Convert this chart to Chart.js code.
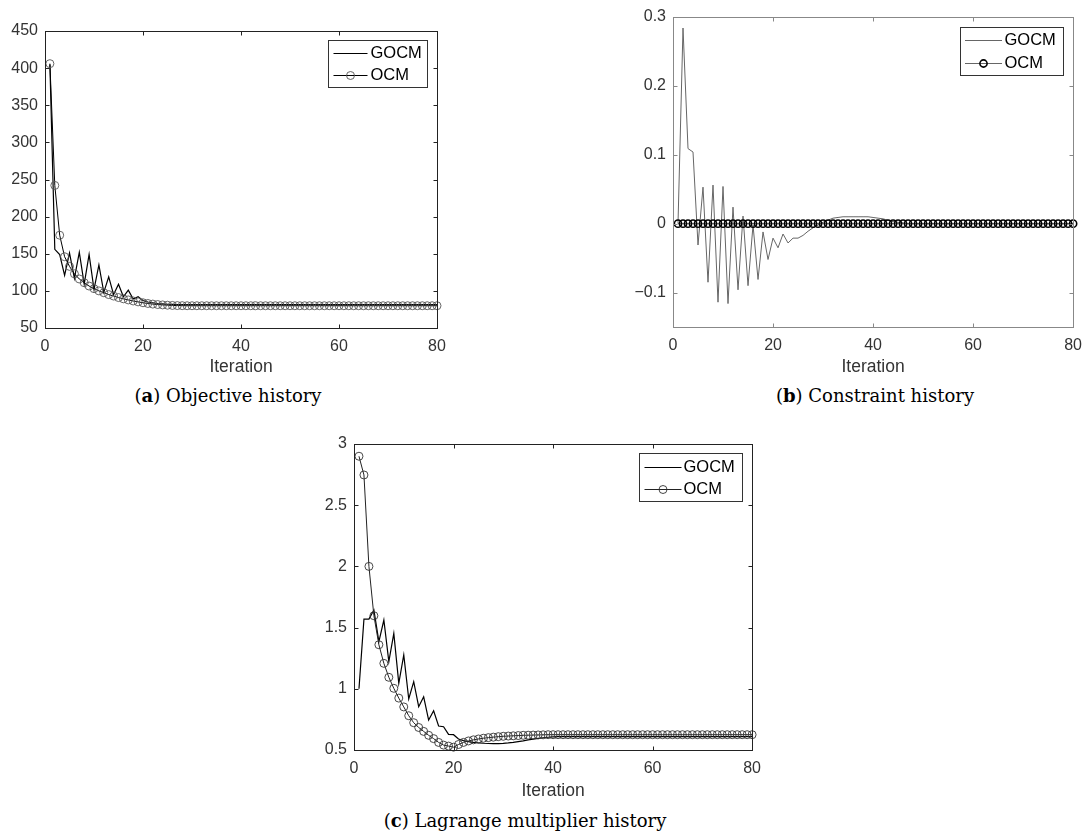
<!DOCTYPE html>
<html>
<head>
<meta charset="utf-8">
<script src="https://cdn.jsdelivr.net/npm/chart.js@4.4.0/dist/chart.umd.min.js"></script>
<style>
  body { margin: 0; background: #fff; width: 1091px; height: 836px; position: relative; overflow: hidden; }
  canvas { position: absolute; }
  .cap { position: absolute; font-family: "DejaVu Serif", serif; font-size: 18px; line-height: 20px; color: #000; white-space: nowrap; transform: translateX(-50%); }
</style>
</head>
<body>
<canvas id="chartA" width="460" height="378" style="left:0;top:0"></canvas>
<canvas id="chartB" width="481" height="378" style="left:610px;top:0"></canvas>
<canvas id="chartC" width="480" height="382" style="left:290px;top:420px"></canvas>
<div class="cap" style="left:228px;top:386px">(<b>a</b>) Objective history</div>
<div class="cap" style="left:875px;top:386px">(<b>b</b>) Constraint history</div>
<div class="cap" style="left:525px;top:811px">(<b>c</b>) Lagrange multiplier history</div>
<script>
// iteration index shared by all three panels
var iterations = Array.from({length: 80}, (_, i) => i + 1);
var xTicks = [0, 20, 40, 60, 80];

// (a) objective history
var objGocm = [
  405, 156, 149, 121, 151, 117, 152, 109, 149, 102,
  135, 98, 119, 95, 109, 92, 101, 89, 92, 87,
  85, 84, 83, 82.5, 82, 81.8, 81.6, 81.5, 81.5, 81.5,
  81.5, 81.5, 81.5, 81.5, 81.5, 81.5, 81.5, 81.5, 81.5, 81.5,
  81.5, 81.5, 81.5, 81.5, 81.5, 81.5, 81.5, 81.5, 81.5, 81.5,
  81.5, 81.5, 81.5, 81.5, 81.5, 81.5, 81.5, 81.5, 81.5, 81.5,
  81.5, 81.5, 81.5, 81.5, 81.5, 81.5, 81.5, 81.5, 81.5, 81.5,
  81.5, 81.5, 81.5, 81.5, 81.5, 81.5, 81.5, 81.5, 81.5, 81.5
];
var objOcm = [
  406, 242, 175, 146, 133, 123, 116, 111, 106.5, 103,
  100, 97.5, 95, 93, 91, 89.3, 87.8, 86.4, 85.2, 84,
  83, 82.2, 81.6, 81.1, 80.7, 80.4, 80.2, 80.1, 80, 80,
  80, 80, 80, 80, 80, 80, 80, 80, 80, 80,
  80, 80, 80, 80, 80, 80, 80, 80, 80, 80,
  80, 80, 80, 80, 80, 80, 80, 80, 80, 80,
  80, 80, 80, 80, 80, 80, 80, 80, 80, 80,
  80, 80, 80, 80, 80, 80, 80, 80, 80, 80
];
var objTicks = [50, 100, 150, 200, 250, 300, 350, 400, 450];

// (b) constraint history
var conGocm = [
  0, 0.284, 0.109, 0.104, -0.031, 0.053, -0.085, 0.056, -0.114, 0.054,
  -0.116, 0.024, -0.096, 0.011, -0.09, -0.002, -0.081, -0.012, -0.052, -0.021,
  -0.035, -0.015, -0.028, -0.021, -0.021, -0.017, -0.011, -0.006, -0.002, 0.002,
  0.005, 0.008, 0.009, 0.01, 0.01, 0.01, 0.01, 0.01, 0.01, 0.009,
  0.008, 0.007, 0.005, 0.003, 0.002, 0.001, 0, 0, 0, 0,
  0, 0, 0, 0, 0, 0, 0, 0, 0, 0,
  0, 0, 0, 0, 0, 0, 0, 0, 0, 0,
  0, 0, 0, 0, 0, 0, 0, 0, 0, 0
];
var conOcm = [
  0, 0, 0, 0, 0, 0, 0, 0, 0, 0,
  0, 0, 0, 0, 0, 0, 0, 0, 0, 0,
  0, 0, 0, 0, 0, 0, 0, 0, 0, 0,
  0, 0, 0, 0, 0, 0, 0, 0, 0, 0,
  0, 0, 0, 0, 0, 0, 0, 0, 0, 0,
  0, 0, 0, 0, 0, 0, 0, 0, 0, 0,
  0, 0, 0, 0, 0, 0, 0, 0, 0, 0,
  0, 0, 0, 0, 0, 0, 0, 0, 0, 0
];
var conTicks = [-0.1, 0, 0.1, 0.2, 0.3];

// (c) Lagrange multiplier history
var lagGocm = [
  1.0, 1.57, 1.57, 1.644, 1.385, 1.562, 1.222, 1.453, 1.045, 1.276,
  0.917, 1.058, 0.854, 0.935, 0.745, 0.82, 0.696, 0.69, 0.628, 0.625,
  0.59, 0.577, 0.568, 0.562, 0.558, 0.555, 0.553, 0.552, 0.552, 0.554,
  0.558, 0.563, 0.569, 0.575, 0.582, 0.589, 0.595, 0.6, 0.604, 0.607,
  0.609, 0.61, 0.61, 0.61, 0.61, 0.61, 0.61, 0.61, 0.61, 0.61,
  0.61, 0.61, 0.61, 0.61, 0.61, 0.61, 0.61, 0.61, 0.61, 0.61,
  0.61, 0.61, 0.61, 0.61, 0.61, 0.61, 0.61, 0.61, 0.61, 0.61,
  0.61, 0.61, 0.61, 0.61, 0.61, 0.61, 0.61, 0.61, 0.61, 0.61
];
var lagOcm = [
  2.9, 2.747, 2.0, 1.597, 1.36, 1.208, 1.094, 1.004, 0.924, 0.852,
  0.78, 0.723, 0.684, 0.652, 0.62, 0.593, 0.562, 0.54, 0.532, 0.523,
  0.545, 0.562, 0.574, 0.583, 0.59, 0.596, 0.601, 0.605, 0.609, 0.612,
  0.614, 0.616, 0.618, 0.62, 0.621, 0.622, 0.623, 0.624, 0.625, 0.625,
  0.625, 0.625, 0.625, 0.625, 0.625, 0.625, 0.625, 0.625, 0.625, 0.625,
  0.625, 0.625, 0.625, 0.625, 0.625, 0.625, 0.625, 0.625, 0.625, 0.625,
  0.625, 0.625, 0.625, 0.625, 0.625, 0.625, 0.625, 0.625, 0.625, 0.625,
  0.625, 0.625, 0.625, 0.625, 0.625, 0.625, 0.625, 0.625, 0.625, 0.625
];
var lagTicks = [0.5, 1, 1.5, 2, 2.5, 3];

Chart.defaults.font.family = '"Liberation Sans", Arial, sans-serif';
Chart.defaults.color = '#333';

function pts(vals) {
  return iterations.map((it, i) => ({x: it, y: vals[i]}));
}

// matlab style box, inward ticks on all sides, legend in the top right corner
var matlabAxes = {
  id: 'matlabAxes',
  afterDraw(chart, args, opts) {
    var ctx = chart.ctx, a = chart.chartArea, sx = chart.scales.x, sy = chart.scales.y;
    var l = Math.round(a.left) + 0.5, r = Math.round(a.right) + 0.5;
    var t = Math.round(a.top) + 0.5, b = Math.round(a.bottom) + 0.5;
    ctx.save();
    ctx.strokeStyle = opts.color;
    ctx.lineWidth = 1;
    ctx.strokeRect(l, t, r - l, b - t);
    ctx.beginPath();
    sx.ticks.forEach(function (tk) {
      var px = Math.round(sx.getPixelForValue(tk.value)) + 0.5;
      ctx.moveTo(px, b); ctx.lineTo(px, b - 4);
      ctx.moveTo(px, t); ctx.lineTo(px, t + 4);
    });
    sy.ticks.forEach(function (tk) {
      var py = Math.round(sy.getPixelForValue(tk.value)) + 0.5;
      ctx.moveTo(l, py); ctx.lineTo(l + 4, py);
      ctx.moveTo(r, py); ctx.lineTo(r - 4, py);
    });
    ctx.stroke();

    var lg = opts.legend;
    var bx = Math.round(a.right) - lg.inset - lg.width + 0.5;
    var by = Math.round(a.top) + lg.top + 0.5;
    ctx.fillStyle = '#fff';
    ctx.fillRect(bx, by, lg.width, lg.height);
    ctx.strokeStyle = '#333';
    ctx.strokeRect(bx, by, lg.width, lg.height);
    ctx.font = '16.5px "Liberation Sans", Arial, sans-serif';
    ctx.textBaseline = 'middle';
    chart.data.datasets.forEach(function (ds, i) {
      var y = by + lg.rows[i];
      ctx.strokeStyle = ds.borderColor;
      ctx.lineWidth = ds.borderWidth;
      ctx.beginPath();
      ctx.moveTo(bx + lg.lineStart, y);
      ctx.lineTo(bx + lg.lineEnd, y);
      ctx.stroke();
      if (ds.pointRadius > 0) {
        ctx.strokeStyle = ds.pointBorderColor;
        ctx.lineWidth = ds.pointBorderWidth;
        ctx.beginPath();
        ctx.arc(bx + (lg.lineStart + lg.lineEnd) / 2, y, ds.pointRadius, 0, Math.PI * 2);
        ctx.stroke();
      }
      ctx.fillStyle = '#000';
      ctx.fillText(ds.label, bx + lg.textX, y);
    });
    ctx.restore();
  }
};

function makeChart(id, sets, yCfg, box) {
  return new Chart(document.getElementById(id), {
    type: 'line',
    data: { datasets: sets },
    plugins: [matlabAxes],
    options: {
      responsive: false,
      animation: false,
      events: [],
      layout: { padding: { left: 0, top: box.top, right: box.right, bottom: 0 } },
      plugins: {
        legend: { display: false },
        tooltip: { enabled: false },
        matlabAxes: { color: box.color, legend: box.legend }
      },
      scales: {
        x: {
          type: 'linear', min: 0, max: 80,
          afterBuildTicks: function (s) { s.ticks = xTicks.map(v => ({value: v})); },
          grid: { display: false, drawTicks: false },
          border: { display: false },
          ticks: { padding: 9, font: { size: 16 } },
          title: { display: true, text: 'Iteration', font: { size: 17.5 }, padding: 0, color: '#333' },
          afterFit: function (s) { s.height = box.xHeight; }
        },
        y: {
          type: 'linear', min: yCfg.min, max: yCfg.max,
          afterBuildTicks: function (s) { s.ticks = yCfg.ticks.map(v => ({value: v})); },
          grid: { display: false, drawTicks: false },
          border: { display: false },
          ticks: {
            padding: 7, font: { size: 16 },
            callback: function (v) { return String(Number(v.toFixed(3))).replace('-', '\u2212'); }
          },
          afterFit: function (s) { s.width = box.yWidth; }
        }
      }
    }
  });
}

makeChart('chartA', [
  { label: 'GOCM', data: pts(objGocm), borderColor: '#000', borderWidth: 1.2, pointRadius: 0, order: 2, clip: false },
  { label: 'OCM', data: pts(objOcm), borderColor: '#000', borderWidth: 1, pointRadius: 4,
    pointBorderColor: '#555', pointBorderWidth: 0.9, pointBackgroundColor: 'rgba(0,0,0,0)', order: 1, clip: false }
], { min: 50, max: 450, ticks: objTicks },
{ top: 31, right: 23, yWidth: 45, xHeight: 50, color: '#222',
  legend: { inset: 10, top: 9, width: 99, height: 47, rows: [13, 35], lineStart: 5, lineEnd: 39, textX: 42 } });

makeChart('chartB', [
  { label: 'GOCM', data: pts(conGocm), borderColor: '#666', borderWidth: 1, pointRadius: 0, order: 2, clip: false },
  { label: 'OCM', data: pts(conOcm), borderColor: '#666', borderWidth: 1, pointRadius: 3.6,
    pointBorderColor: '#000', pointBorderWidth: 1.6, pointBackgroundColor: 'rgba(0,0,0,0)', order: 1, clip: false }
], { min: -0.15, max: 0.3, ticks: conTicks },
{ top: 17, right: 14, yWidth: 63, xHeight: 51, color: '#888',
  legend: { inset: 10, top: 10, width: 103, height: 48, rows: [13, 36], lineStart: 4.5, lineEnd: 41.5, textX: 44 } });

makeChart('chartC', [
  { label: 'GOCM', data: pts(lagGocm), borderColor: '#000', borderWidth: 1.2, pointRadius: 0, order: 2, clip: false },
  { label: 'OCM', data: pts(lagOcm), borderColor: '#222', borderWidth: 1, pointRadius: 4,
    pointBorderColor: '#333', pointBorderWidth: 0.9, pointBackgroundColor: 'rgba(0,0,0,0)', order: 1, clip: false }
], { min: 0.5, max: 3, ticks: lagTicks },
{ top: 24, right: 13, yWidth: 64, xHeight: 52, color: '#222',
  legend: { inset: 10, top: 9, width: 103, height: 48, rows: [14, 36], lineStart: 5, lineEnd: 42, textX: 44 } });
</script>
</body>
</html>
